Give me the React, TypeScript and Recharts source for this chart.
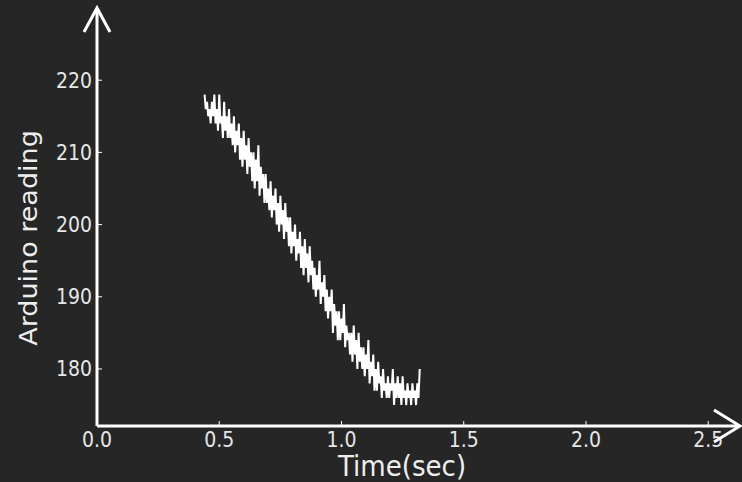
import { LineChart, Line, XAxis, YAxis } from 'recharts';

// Arduino sensor capture, sampled every 5 ms starting at t = 0.44 s
const SAMPLE_START = 0.44;
const SAMPLE_STEP = 0.005;

const readings = [
  218, 216, 217, 215, 216, 214, 217, 215, 218, 214,
  216, 213, 218, 214, 215, 212, 217, 213, 215, 212,
  216, 212, 214, 211, 215, 210, 213, 211, 214, 209,
  212, 208, 213, 209, 211, 207, 212, 208, 210, 206,
  210, 205, 209, 206, 211, 204, 208, 205, 207, 203,
  207, 203, 205, 202, 206, 201, 204, 202, 205, 200,
  203, 199, 204, 200, 202, 198, 203, 199, 201, 197,
  201, 196, 199, 197, 200, 195, 198, 196, 199, 194,
  197, 193, 198, 194, 196, 192, 197, 193, 195, 191,
  194, 190, 193, 191, 195, 189, 192, 190, 193, 188,
  191, 187, 190, 188, 191, 185, 189, 186, 188, 184,
  188, 184, 187, 185, 189, 183, 186, 184, 185, 182,
  185, 181, 186, 182, 184, 180, 185, 181, 183, 180,
  183, 179, 182, 180, 184, 178, 181, 179, 182, 177,
  180, 177, 181, 178, 179, 176, 180, 177, 178, 176,
  179, 176, 178, 177, 180, 175, 178, 176, 179, 176,
  178, 175, 179, 176, 177, 175, 178, 176, 177, 175,
  178, 176, 177, 175, 178, 176, 180,
];

const xTicks = [0, 0.5, 1.0, 1.5, 2.0, 2.5];
const yTicks = [180, 190, 200, 210, 220];

const data = readings.map((v, i) => ({
  t: +(SAMPLE_START + i * SAMPLE_STEP).toFixed(3),
  reading: v,
}));

const W = 742;
const H = 482;
const BG = '#262626';
const FONT = "'DejaVu Sans', sans-serif";
// the original figure text is a bit narrower than it is tall
const SQUASH = 0.9;

// eslint-disable-next-line @typescript-eslint/no-explicit-any
const XTick = ({ x, y, payload }: any) => (
  <g transform={`translate(${x},${y}) scale(${SQUASH},1)`}>
    <text x={0} y={0} dy={15} textAnchor="middle" fill="#e6e6e6" fontSize={21} fontFamily={FONT}>
      {Number(payload.value).toFixed(1)}
    </text>
  </g>
);

// eslint-disable-next-line @typescript-eslint/no-explicit-any
const YTick = ({ x, y, payload }: any) => (
  <g transform={`translate(${x},${y}) scale(${SQUASH},1)`}>
    <text x={0} y={0} dy={7.5} textAnchor="end" fill="#e6e6e6" fontSize={21} fontFamily={FONT}>
      {payload.value}
    </text>
  </g>
);

export default function App() {
  return (
    <div style={{ position: 'absolute', left: 0, top: 0, width: W, height: H, background: BG }}>
      <LineChart
        width={W}
        height={H}
        data={data}
        margin={{ top: 8, right: 2, left: 0, bottom: 0 }}
      >
        <XAxis
          dataKey="t"
          type="number"
          domain={[0, 2.63]}
          allowDataOverflow
          ticks={xTicks}
          height={56}
          axisLine={{ stroke: '#ffffff', strokeWidth: 3 }}
          tickLine={{ stroke: '#ffffff', strokeWidth: 1 }}
          tickSize={-5}
          tickMargin={11}
          tick={<XTick />}
          interval={0}
        />
        <YAxis
          type="number"
          domain={[172.1, 230]}
          allowDataOverflow
          ticks={yTicks}
          width={97}
          axisLine={{ stroke: '#ffffff', strokeWidth: 3 }}
          tickLine={{ stroke: '#ffffff', strokeWidth: 1 }}
          tickSize={-5}
          tickMargin={10}
          tick={<YTick />}
          interval={0}
        />
        <Line
          type="linear"
          dataKey="reading"
          stroke="#ffffff"
          strokeWidth={2}
          dot={false}
          isAnimationActive={false}
        />
      </LineChart>
      {/* arrow heads and axis titles */}
      <svg
        width={W}
        height={H}
        style={{ position: 'absolute', left: 0, top: 0, pointerEvents: 'none' }}
      >
        <polyline points="84,32 97,8 110,32" fill="none" stroke="#ffffff" strokeWidth={3} />
        <polyline points="714,410 740,426 714,442" fill="none" stroke="#ffffff" strokeWidth={3} />
        <g transform={`translate(402,476) scale(${SQUASH},1)`}>
          <text x={0} y={0} textAnchor="middle" fill="#eeeeee" fontSize={29} fontFamily={FONT}>
            Time(sec)
          </text>
        </g>
        <g transform={`translate(37,238) scale(${SQUASH},1) rotate(-90)`}>
          <text x={0} y={0} textAnchor="middle" fill="#eeeeee" fontSize={27} fontFamily={FONT}>
            Arduino reading
          </text>
        </g>
      </svg>
    </div>
  );
}
